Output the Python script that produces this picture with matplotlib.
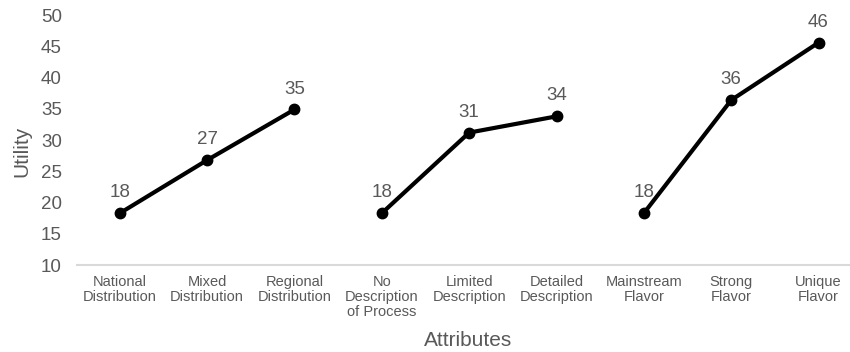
import matplotlib.pyplot as plt
import numpy as np

plt.rcParams['font.family'] = ['Liberation Sans', 'DejaVu Sans']

# categories (one group per attribute)
groups = [
    ["National\nDistribution", "Mixed\nDistribution", "Regional\nDistribution"],
    ["No\nDescription\nof Process", "Limited\nDescription", "Detailed\nDescription"],
    ["Mainstream\nFlavor", "Strong\nFlavor", "Unique\nFlavor"],
]
# utility values
utility = [
    [18.3, 26.8, 34.9],
    [18.3, 31.2, 33.8],
    [18.3, 36.4, 45.6],
]
value_labels = [
    ["18", "27", "35"],
    ["18", "31", "34"],
    ["18", "36", "46"],
]

gray = "#595959"

fig = plt.figure(figsize=(8.5, 3.52), dpi=100)
ax = fig.add_axes([0.0906, 0.247, 0.9094, 0.71])

tick_labels = []
pos = 0
for cats, vals, labs in zip(groups, utility, value_labels):
    x = np.arange(pos, pos + len(cats))
    ax.plot(x, vals, color="black", lw=3, marker="o", ms=7.5, solid_capstyle="round")
    for xi, v, t in zip(x, vals, labs):
        ax.annotate(t, (xi, v), xytext=(0, 11.5), textcoords="offset points",
                    ha="center", va="baseline", fontsize=13.5, color=gray)
    tick_labels += cats
    pos += len(cats)

ax.set_xlim(-0.49, 8.36)
ax.set_ylim(10, 50)
ax.set_yticks(np.arange(10, 51, 5))
ax.set_xticks(np.arange(len(tick_labels)))
ax.set_xticklabels(tick_labels, fontsize=10.5, color=gray, linespacing=1.1)
ax.tick_params(axis="y", length=0, pad=11, labelsize=13.5, labelcolor=gray)
ax.tick_params(axis="x", length=0, pad=7)

for s in ["top", "right", "left"]:
    ax.spines[s].set_visible(False)
ax.spines["bottom"].set_color("#d9d9d9")
ax.spines["bottom"].set_linewidth(1.5)

fig.text(0.026, 0.57, "Utility", rotation=90, ha="center", va="center",
         fontsize=15, color=gray)
fig.text(0.551, 0.034, "Attributes", ha="center", va="center",
         fontsize=15, color=gray)

fig.savefig("out.png", dpi=100)
